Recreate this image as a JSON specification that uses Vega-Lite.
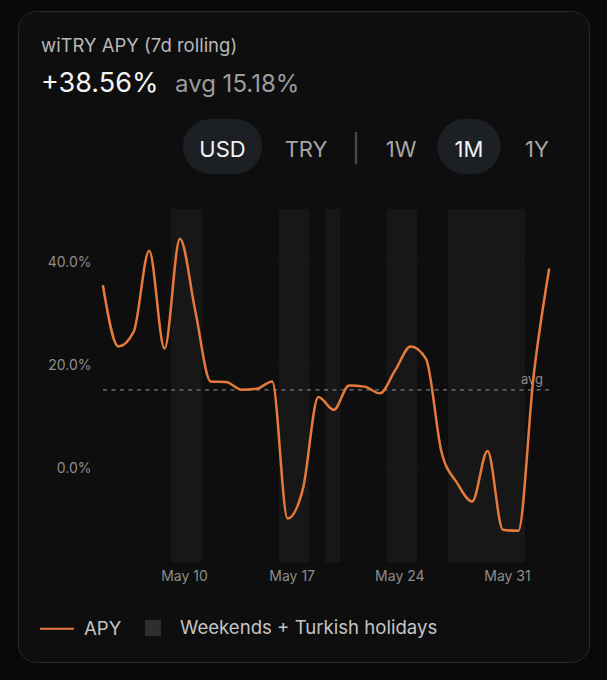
{
  "$schema": "https://vega.github.io/schema/vega-lite/v6.json",
  "width": 571,
  "height": 651,
  "autosize": {"type": "none"},
  "padding": {"left": 18, "top": 11, "right": 18, "bottom": 18},
  "background": "#090909",
  "title": {
    "text": "wiTRY APY (7d rolling)",
    "anchor": "start",
    "frame": "group",
    "orient": "top",
    "dx": 23,
    "offset": -59,
    "baseline": "alphabetic",
    "font": "Inter",
    "fontSize": 18.5,
    "fontWeight": "normal",
    "color": "#b8b8b8"
  },
  "datasets": {
    "apy": [
      {"t": "2026-05-04T17:40:00Z", "apy": 35.3},
      {"t": "2026-05-05T17:40:00Z", "apy": 23.6},
      {"t": "2026-05-06T17:40:00Z", "apy": 26.5},
      {"t": "2026-05-07T17:40:00Z", "apy": 42.2},
      {"t": "2026-05-08T17:40:00Z", "apy": 23.2},
      {"t": "2026-05-09T17:40:00Z", "apy": 44.5},
      {"t": "2026-05-10T17:40:00Z", "apy": 30.5},
      {"t": "2026-05-11T17:40:00Z", "apy": 16.8},
      {"t": "2026-05-12T17:40:00Z", "apy": 16.7},
      {"t": "2026-05-13T17:40:00Z", "apy": 15.2},
      {"t": "2026-05-14T17:40:00Z", "apy": 15.4},
      {"t": "2026-05-15T17:40:00Z", "apy": 16.8},
      {"t": "2026-05-16T17:40:00Z", "apy": -9.8},
      {"t": "2026-05-17T17:40:00Z", "apy": -4.0},
      {"t": "2026-05-18T17:40:00Z", "apy": 13.8},
      {"t": "2026-05-19T17:40:00Z", "apy": 11.3},
      {"t": "2026-05-20T17:40:00Z", "apy": 16.0},
      {"t": "2026-05-21T17:40:00Z", "apy": 15.8},
      {"t": "2026-05-22T17:40:00Z", "apy": 14.5},
      {"t": "2026-05-23T17:40:00Z", "apy": 19.0},
      {"t": "2026-05-24T17:40:00Z", "apy": 23.6},
      {"t": "2026-05-25T17:40:00Z", "apy": 21.2},
      {"t": "2026-05-26T17:40:00Z", "apy": 3.2},
      {"t": "2026-05-27T17:40:00Z", "apy": -2.8},
      {"t": "2026-05-28T17:40:00Z", "apy": -6.5},
      {"t": "2026-05-29T17:40:00Z", "apy": 3.3},
      {"t": "2026-05-30T17:40:00Z", "apy": -12.0},
      {"t": "2026-05-31T17:40:00Z", "apy": -12.2},
      {"t": "2026-06-01T17:40:00Z", "apy": 18.0},
      {"t": "2026-06-02T17:40:00Z", "apy": 38.56}
    ],
    "bands": [
      {"start": "2026-05-09T04:00:00Z", "end": "2026-05-11T04:00:00Z", "kind": "weekend"},
      {"start": "2026-05-16T04:00:00Z", "end": "2026-05-18T04:00:00Z", "kind": "weekend"},
      {"start": "2026-05-19T04:00:00Z", "end": "2026-05-20T04:00:00Z", "kind": "holiday"},
      {"start": "2026-05-23T04:00:00Z", "end": "2026-05-25T04:00:00Z", "kind": "weekend"},
      {"start": "2026-05-27T04:00:00Z", "end": "2026-06-01T04:00:00Z", "kind": "holiday"}
    ],
    "grid": [{"v": 0}, {"v": 20}, {"v": 40}],
    "average": [{"avg": 15.18, "label": "avg"}],
    "headline": [
      {"label": "+38.56%", "role": "current"},
      {"label": "avg 15.18%", "role": "average"}
    ],
    "currency": [
      {"label": "USD", "selected": true},
      {"label": "TRY", "selected": false}
    ],
    "divider": [{"label": "|"}],
    "period": [
      {"label": "1W", "selected": false},
      {"label": "1M", "selected": true},
      {"label": "1Y", "selected": false}
    ]
  },
  "layer": [
    {
      "layer": [
        {
          "data": {"name": "bands"},
          "mark": {"type": "rect", "opacity": 0.28},
          "encoding": {
            "x": {
              "field": "start",
              "type": "temporal",
              "scale": {
                "type": "utc",
                "domain": [
                  {"year": 2026, "month": 4, "date": 29, "hours": 5, "utc": true},
                  {"year": 2026, "month": 6, "date": 5, "hours": 8, "utc": true}
                ]
              }
            },
            "x2": {"field": "end"},
            "y": {
              "datum": 50.29,
              "type": "quantitative",
              "scale": {"domain": [-37.67, 88.74], "nice": false, "zero": false}
            },
            "y2": {"datum": -18.25},
            "color": {
              "datum": "Weekends + Turkish holidays",
              "type": "nominal",
              "scale": {
                "domain": ["APY", "Weekends + Turkish holidays"],
                "range": ["#e67a3c", "#2e2e2e"]
              },
              "legend": {
                "orient": "bottom-left",
                "direction": "horizontal",
                "title": null,
                "offset": 23,
                "padding": 0,
                "symbolSize": 1156,
                "symbolType": "stroke",
                "symbolStrokeWidth": 2,
                "symbolOpacity": 1,
                "symbolOffset": -2,
                "labelFont": "Inter",
                "labelFontSize": 18.6,
                "labelColor": "#c4c4c4",
                "labelOffset": 9,
                "labelLimit": 500,
                "columnPadding": 15,
                "encode": {
                  "symbols": {
                    "update": {
                      "shape": {"signal": "datum.value === 'APY' ? 'stroke' : 'M-0.41,-0.41H0.41V0.41H-0.41Z'"},
                      "size": {"value": 1156},
                      "fill": {"signal": "datum.value === 'APY' ? 'transparent' : '#2e2e2e'"},
                      "stroke": {"signal": "datum.value === 'APY' ? '#e67a3c' : 'transparent'"},
                      "strokeWidth": {"value": 2},
                      "opacity": {"value": 1},
                      "fillOpacity": {"value": 1},
                      "strokeOpacity": {"value": 1}
                    }
                  }
                }
              }
            }
          }
        },
        {
          "data": {"name": "grid"},
          "mark": {"type": "rule", "stroke": "#202020", "strokeDash": [1.5, 3.5], "strokeWidth": 1},
          "encoding": {
            "y": {"field": "v", "type": "quantitative"},
            "x": {"datum": {"year": 2026, "month": 5, "date": 4, "hours": 8, "utc": true}, "type": "temporal"},
            "x2": {"datum": {"year": 2026, "month": 6, "date": 3, "hours": 3, "utc": true}}
          }
        },
        {
          "data": {"name": "average"},
          "mark": {"type": "rule", "stroke": "#7c7c7c", "strokeDash": [4, 4.5], "strokeWidth": 1.2},
          "encoding": {
            "y": {"field": "avg", "type": "quantitative"},
            "x": {"datum": {"year": 2026, "month": 5, "date": 4, "hours": 17, "minutes": 40, "utc": true}, "type": "temporal"},
            "x2": {"datum": {"year": 2026, "month": 6, "date": 2, "hours": 17, "minutes": 40, "utc": true}}
          }
        },
        {
          "data": {"name": "average"},
          "mark": {"type": "text", "align": "right", "baseline": "alphabetic", "dx": -6, "dy": -6, "font": "Inter", "fontSize": 13, "color": "#8a8a8a"},
          "encoding": {
            "y": {"field": "avg", "type": "quantitative"},
            "x": {"datum": {"year": 2026, "month": 6, "date": 2, "hours": 17, "minutes": 40, "utc": true}, "type": "temporal"},
            "text": {"field": "label"}
          }
        },
        {
          "data": {"name": "apy"},
          "mark": {"type": "line", "interpolate": "monotone", "strokeWidth": 2.5, "strokeCap": "round", "strokeJoin": "round"},
          "encoding": {
            "x": {
              "field": "t",
              "type": "temporal",
              "axis": {
                "values": [
                  {"year": 2026, "month": 5, "date": 10, "utc": true},
                  {"year": 2026, "month": 5, "date": 17, "utc": true},
                  {"year": 2026, "month": 5, "date": 24, "utc": true},
                  {"year": 2026, "month": 5, "date": 31, "utc": true}
                ],
                "labelExpr": "utcFormat(datum.value, '%b %-d')",
                "offset": -93,
                "labelPadding": 0,
                "ticks": false,
                "domain": false,
                "grid": false,
                "title": null,
                "labelFont": "Inter",
                "labelFontSize": 14,
                "labelColor": "#8d8d8d",
                "labelFlush": false,
                "labelOverlap": false
              }
            },
            "y": {
              "field": "apy",
              "type": "quantitative",
              "axis": {
                "values": [0, 20, 40],
                "labelExpr": "format(datum.value, '.1f') + '%'",
                "offset": -73,
                "labelPadding": 0,
                "ticks": false,
                "domain": false,
                "grid": false,
                "title": null,
                "labelFont": "Inter",
                "labelFontSize": 14,
                "labelColor": "#8d8d8d"
              }
            },
            "color": {"datum": "APY", "type": "nominal"}
          }
        }
      ]
    },
    {
      "data": {"name": "headline"},
      "mark": {"type": "text", "align": "left", "baseline": "alphabetic", "font": "Inter"},
      "encoding": {
        "x": {"field": "role", "type": "nominal", "scale": {"type": "point", "domain": ["current", "average"], "range": [23, 157], "padding": 0}, "axis": null},
        "y": {"datum": "headline", "type": "nominal", "scale": {"type": "point", "domain": ["headline"], "range": [81, 81]}, "axis": null},
        "text": {"field": "label"},
        "size": {"condition": {"test": "datum.role === 'current'", "value": 27}, "value": 24},
        "color": {"condition": {"test": "datum.role === 'current'", "value": "#f4f4f4"}, "value": "#9c9c9c"}
      }
    },
    {
      "data": {"name": "currency"},
      "encoding": {
        "x": {"field": "label", "type": "nominal", "scale": {"type": "point", "domain": ["USD", "TRY"], "range": [204.5, 288], "padding": 0}, "axis": null},
        "y": {"datum": "controls", "type": "nominal", "scale": {"type": "point", "domain": ["controls"], "range": [135.5, 135.5]}, "axis": null}
      },
      "layer": [
        {
          "transform": [{"filter": "datum.selected"}],
          "mark": {"type": "point", "shape": "M-0.4364,-1H0.4364A1,1,0,0,1,0.4364,1H-0.4364A1,1,0,0,1,-0.4364,-1Z", "size": 3025, "filled": true, "opacity": 1, "color": "#1c2025", "strokeWidth": 0}
        },
        {
          "mark": {"type": "text", "align": "center", "baseline": "middle", "dy": 3, "font": "Inter", "fontSize": 22},
          "encoding": {
            "text": {"field": "label"},
            "color": {"condition": {"test": "datum.selected", "value": "#f2f2f2"}, "value": "#a6a6a6"}
          }
        }
      ]
    },
    {
      "data": {"name": "divider"},
      "mark": {"type": "text", "align": "center", "baseline": "middle", "dy": 3, "font": "Inter", "fontSize": 27, "color": "#4d4d4d"},
      "encoding": {
        "x": {"field": "label", "type": "nominal", "scale": {"type": "point", "domain": ["|"], "range": [338, 338], "padding": 0}, "axis": null},
        "y": {"datum": "controls", "type": "nominal", "scale": {"type": "point", "domain": ["controls"], "range": [135.5, 135.5]}, "axis": null},
        "text": {"field": "label"}
      }
    },
    {
      "data": {"name": "period"},
      "encoding": {
        "x": {"field": "label", "type": "nominal", "scale": {"type": "point", "domain": ["1W", "1M", "1Y"], "range": [383, 519], "padding": 0}, "axis": null},
        "y": {"datum": "controls", "type": "nominal", "scale": {"type": "point", "domain": ["controls"], "range": [135.5, 135.5]}, "axis": null}
      },
      "layer": [
        {
          "transform": [{"filter": "datum.selected"}],
          "mark": {"type": "point", "shape": "M-0.1455,-1H0.1455A1,1,0,0,1,0.1455,1H-0.1455A1,1,0,0,1,-0.1455,-1Z", "size": 3025, "filled": true, "opacity": 1, "color": "#1c2025", "strokeWidth": 0}
        },
        {
          "mark": {"type": "text", "align": "center", "baseline": "middle", "dy": 3, "font": "Inter", "fontSize": 22},
          "encoding": {
            "text": {"field": "label"},
            "color": {"condition": {"test": "datum.selected", "value": "#f2f2f2"}, "value": "#a6a6a6"}
          }
        }
      ]
    }
  ],
  "resolve": {
    "scale": {"x": "independent", "y": "independent", "color": "independent", "size": "independent"}
  },
  "config": {
    "font": "Inter",
    "view": {"fill": "#0e0e0e", "stroke": "#2a2a2a", "strokeWidth": 1, "cornerRadius": 18}
  }
}
